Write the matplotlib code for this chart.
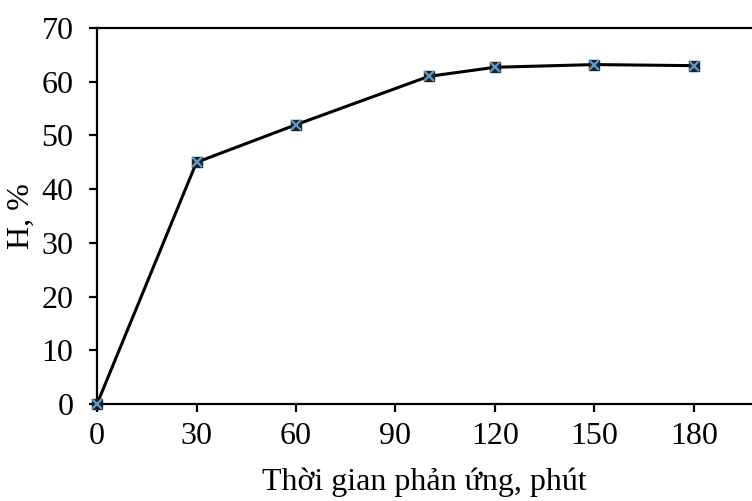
import numpy as np
import matplotlib.pyplot as plt

# Reaction time (minutes) and conversion H (%)
time_min = [0, 30, 60, 100, 120, 150, 180]
h_percent = [0, 45, 52, 61, 62.7, 63.2, 63]
x_ticks = [0, 30, 60, 90, 120, 150, 180]
y_ticks = [0, 10, 20, 30, 40, 50, 60, 70]

plt.rcParams['font.family'] = ['Liberation Serif', 'DejaVu Serif']

fig = plt.figure(figsize=(7.52, 5.01), dpi=100)
ax = fig.add_axes([0.129, 0.1936, 0.871, 0.7504])

ax.plot(time_min, h_percent, color='black', lw=2.2, zorder=2, clip_on=False)
ax.plot(time_min, h_percent, ls='none', marker='s', ms=6.5, color='#222222', zorder=3, clip_on=False)
ax.plot(time_min, h_percent, ls='none', marker='x', ms=7, mew=1.6, color='#5b9bd5', zorder=4, clip_on=False)

ax.set_xlim(0, 197.5)
ax.set_ylim(0, 70)
ax.set_xticks(x_ticks)
ax.set_yticks(y_ticks)
ax.tick_params(direction='out', length=6, width=1.6, labelsize=23)
ax.tick_params(axis='x', pad=7)
ax.tick_params(axis='y', pad=11)
for side in ['left', 'bottom', 'top']:
    ax.spines[side].set_linewidth(1.6)
ax.spines['right'].set_visible(False)

ax.set_xlabel('Thời gian phản ứng, phút', fontsize=23, labelpad=12)
ax.set_ylabel('H, %', fontsize=23, va='center')
ax.yaxis.set_label_coords(-0.116, 0.5)

fig.savefig('out.png', dpi=100)
